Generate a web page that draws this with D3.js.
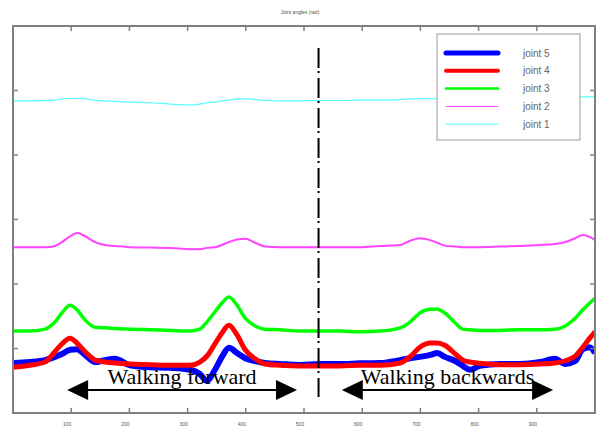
<!DOCTYPE html>
<html>
<head>
<script src="https://cdn.jsdelivr.net/npm/d3@7"></script>
<style>
  body { margin: 0; background: white; }
  .lbl { font-family: "Liberation Serif", serif; font-size: 22px; fill: black; }
  .leg { font-family: "Liberation Sans", sans-serif; font-size: 10px; fill: #666; }
  .tiny { font-family: "Liberation Sans", sans-serif; font-size: 5px; fill: #555; }
</style>
</head>
<body>
<svg width="604" height="430"></svg>
<script>
// sample positions along the record (x units)
var samples = [0, 29, 55, 72, 84, 98, 110, 124, 141, 158, 175, 201, 235, 270, 304, 321, 333, 347, 359, 371,
  385, 399, 416, 433, 459, 493, 528, 562, 596, 631, 665, 682, 699, 717, 729, 742, 760, 773, 785, 802,
  837, 871, 906, 931, 949, 966, 979, 991, 1000];

var joint1 = [48.4, 48.4, 48.45, 48.5, 48.7, 48.8, 48.8, 48.7, 48.5, 48.4, 48.3, 48.2, 48.1, 47.9, 47.75, 47.9, 48.1, 48.2, 48.4, 48.5,
  48.7, 48.75, 48.6, 48.45, 48.4, 48.4, 48.45, 48.45, 48.5, 48.5, 48.6, 48.7, 48.75, 48.75, 48.7, 48.7, 48.7, 48.7, 48.7, 48.75,
  48.8, 48.8, 48.8, 48.9, 48.9, 49.0, 49.0, 49.0, 49.0];
var joint2 = [25.7, 25.7, 25.7, 25.9, 26.5, 27.4, 27.9, 27.4, 26.5, 26.05, 25.9, 25.7, 25.65, 25.6, 25.4, 25.4, 25.6, 25.7, 26.05, 26.5,
  26.9, 27.0, 26.4, 25.8, 25.7, 25.7, 25.7, 25.7, 25.7, 25.9, 26.05, 26.7, 27.1, 26.8, 26.4, 25.95, 25.8, 25.7, 25.7, 25.7,
  25.8, 25.9, 26.05, 26.2, 26.5, 27.1, 27.6, 27.3, 26.8];
var joint3 = [12.7, 12.7, 13.0, 14.1, 15.5, 16.7, 16.0, 14.4, 13.3, 13.2, 13.1, 13.0, 12.9, 12.8, 12.7, 13.0, 14.1, 15.7, 17.05, 18.0,
  16.7, 14.7, 13.5, 13.0, 12.9, 12.7, 12.7, 12.7, 12.6, 12.7, 13.2, 14.1, 15.5, 16.1, 16.1, 15.5, 13.95, 13.0, 12.9, 12.8,
  12.8, 12.9, 12.9, 13.0, 13.5, 14.7, 16.0, 17.05, 17.8];
var joint4 = [7.1, 7.4, 7.9, 9.5, 10.7, 11.6, 10.85, 9.5, 8.2, 7.9, 7.75, 7.6, 7.5, 7.4, 7.4, 7.9, 8.8, 10.7, 12.4, 13.6,
  12.1, 9.8, 8.4, 7.6, 7.4, 7.3, 7.3, 7.3, 7.4, 7.4, 7.75, 8.7, 10.2, 10.85, 10.85, 10.5, 9.15, 8.2, 7.9, 7.7,
  7.5, 7.5, 7.6, 7.75, 8.1, 8.8, 10.2, 11.6, 12.6];
var joint5 = [7.75, 7.9, 8.2, 8.7, 9.15, 9.8, 9.9, 9.0, 7.9, 8.2, 8.4, 7.4, 7.1, 7.0, 6.7, 6.05, 5.0, 6.7, 8.7, 10.1,
  9.3, 8.5, 8.06, 7.75, 7.6, 7.45, 7.6, 7.6, 7.7, 7.75, 8.2, 8.5, 8.7, 9.0, 9.3, 8.7, 8.06, 7.3, 6.7, 7.3,
  7.6, 7.6, 7.9, 8.4, 7.6, 8.06, 9.9, 10.2, 9.3];

var xTicks = [100, 200, 300, 400, 500, 600, 700, 800, 900];
var yTicks = [10, 20, 30, 40, 50];
var xTickLabels = ["100", "200", "300", "400", "500", "600", "700", "800", "900"];
var titleText = "Joint angles (rad)";
var split = 525;            // forward / backward boundary
var phases = [
  {name: "Walking forward", from: 93, to: 488},
  {name: "Walking backwards", from: 565, to: 928}
];

var series = [
  {name: "joint 5", values: joint5, color: "#0000ff", width: 6},
  {name: "joint 4", values: joint4, color: "#ff0000", width: 5},
  {name: "joint 3", values: joint3, color: "#00ff00", width: 3.5},
  {name: "joint 2", values: joint2, color: "#ff44ff", width: 2},
  {name: "joint 1", values: joint1, color: "#55ffff", width: 1.2}
];

var svg = d3.select("svg");
var mLeft = 13, mRight = 595, mTop = 26, mBottom = 413;

var xs = d3.scaleLinear().domain([0, 1000]).range([mLeft, mRight]);
var ys = d3.scaleLinear().domain([0, 60]).range([mBottom, mTop]);

svg.append("defs").append("clipPath").attr("id", "clip")
  .append("rect").attr("x", mLeft).attr("y", mTop).attr("width", mRight - mLeft).attr("height", mBottom - mTop);

// title (tiny, as in the scan)
svg.append("text").attr("class", "tiny").attr("x", 300).attr("y", 14)
  .attr("text-anchor", "middle").text(titleText);

// curves
var line = d3.line()
  .x(function(d, i) { return xs(samples[i]); })
  .y(function(d) { return ys(d); })
  .curve(d3.curveMonotoneX);

var plot = svg.append("g").attr("clip-path", "url(#clip)");
series.forEach(function(s) {
  plot.append("path")
    .datum(s.values)
    .attr("d", line)
    .attr("fill", "none")
    .attr("stroke", s.color)
    .attr("stroke-width", s.width)
    .attr("stroke-linejoin", "round");
});

// dash-dot separator
svg.append("line")
  .attr("x1", xs(split)).attr("x2", xs(split))
  .attr("y1", 48).attr("y2", 397)
  .attr("stroke", "black").attr("stroke-width", 2)
  .attr("stroke-dasharray", "20,3,2,5");

// phase arrows and labels
var arrowY = 390;
phases.forEach(function(p) {
  var x0 = xs(p.from), x1 = xs(p.to);
  svg.append("line").attr("x1", x0 + 15).attr("x2", x1 - 15)
    .attr("y1", arrowY).attr("y2", arrowY)
    .attr("stroke", "black").attr("stroke-width", 2);
  svg.append("path")
    .attr("d", "M" + x0 + "," + arrowY + "L" + (x0 + 21) + "," + (arrowY - 10) + "L" + (x0 + 21) + "," + (arrowY + 10) + "Z")
    .attr("fill", "black");
  svg.append("path")
    .attr("d", "M" + x1 + "," + arrowY + "L" + (x1 - 21) + "," + (arrowY - 10) + "L" + (x1 - 21) + "," + (arrowY + 10) + "Z")
    .attr("fill", "black");
  svg.append("text").attr("class", "lbl")
    .attr("x", (x0 + x1) / 2).attr("y", 384)
    .attr("text-anchor", "middle")
    .text(p.name);
});

// frame and ticks
svg.append("rect")
  .attr("x", mLeft).attr("y", mTop).attr("width", mRight - mLeft).attr("height", mBottom - mTop)
  .attr("fill", "none").attr("stroke", "#808080").attr("stroke-width", 2);

xTicks.forEach(function(t) {
  svg.append("line").attr("x1", xs(t)).attr("x2", xs(t)).attr("y1", mBottom).attr("y2", mBottom - 5)
    .attr("stroke", "#808080").attr("stroke-width", 1.5);
  svg.append("line").attr("x1", xs(t)).attr("x2", xs(t)).attr("y1", mTop).attr("y2", mTop + 5)
    .attr("stroke", "#808080").attr("stroke-width", 1.5);
});
yTicks.forEach(function(t) {
  svg.append("line").attr("x1", mLeft).attr("x2", mLeft + 5).attr("y1", ys(t)).attr("y2", ys(t))
    .attr("stroke", "#808080").attr("stroke-width", 1.5);
  svg.append("line").attr("x1", mRight).attr("x2", mRight - 5).attr("y1", ys(t)).attr("y2", ys(t))
    .attr("stroke", "#808080").attr("stroke-width", 1.5);
});

svg.append("g").selectAll("text")
  .data(xTicks)
  .enter()
  .append("text")
  .attr("class", "tiny")
  .attr("x", function(d) { return xs(d) - 4; })
  .attr("y", 426)
  .attr("text-anchor", "middle")
  .text(function(d, i) { return xTickLabels[i]; });

// legend
var leg = svg.append("g").attr("transform", "translate(437,34)");
leg.append("rect").attr("width", 143).attr("height", 106)
  .attr("fill", "white").attr("stroke", "#999").attr("stroke-width", 1);
series.forEach(function(s, i) {
  var y = 19 + i * 17.8;
  leg.append("line").attr("x1", 9).attr("x2", 61).attr("y1", y).attr("y2", y)
    .attr("stroke", s.color).attr("stroke-width", Math.max(1, s.width - 1))
    .attr("stroke-linecap", "round");
  leg.append("text").attr("class", "leg").attr("x", 86).attr("y", y + 3.5).text(s.name);
});
</script>
</body>
</html>
